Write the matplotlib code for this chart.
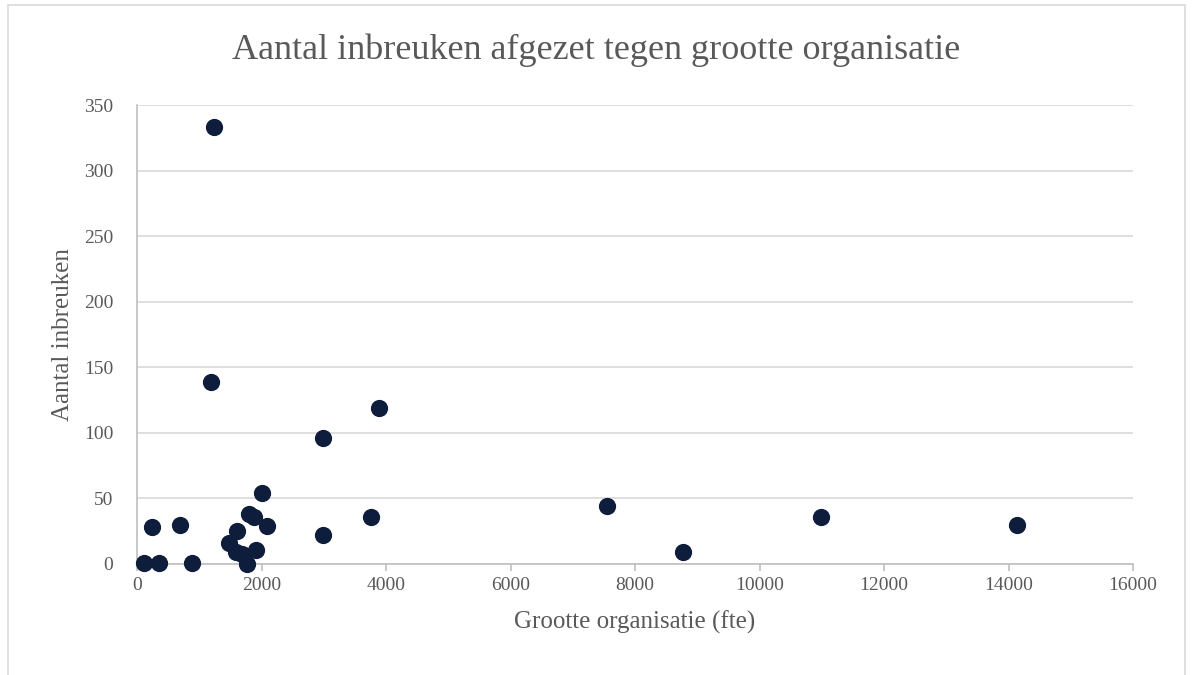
import matplotlib
matplotlib.use("Agg")
import matplotlib.pyplot as plt
from matplotlib.patches import Rectangle

# fte vs aantal inbreuken
fte = [112, 353, 888, 1772, 236, 690, 2013, 1799, 1879, 2093, 1601, 1483,
       1590, 1692, 1911, 2992, 3763, 1237, 1188, 2987, 3887, 7548, 8769,
       10985, 14133]
inbreuken = [1, 1, 1, 0, 28, 30, 54, 38, 36, 29, 25, 16, 9, 8, 11, 22, 36,
             333, 139, 96, 119, 44, 9, 36, 30]

x_ticks = list(range(0, 16001, 2000))
y_ticks = list(range(0, 351, 50))

grey = "#595959"
plt.rcParams['font.family'] = ['Liberation Serif', 'DejaVu Serif']

fig = plt.figure(figsize=(11.92, 6.75), dpi=100)
fig.patches.append(Rectangle((8/1192, -0.05), 1177/1192, 1.05 - 5/675, transform=fig.transFigure,
                             fill=False, edgecolor="#D9D9D9", lw=1.2))

ax = fig.add_axes([137/1192, 1 - 564/675, 996/1192, 459/675])
ax.scatter(fte, inbreuken, s=130, color="#0E1D3B", zorder=3, clip_on=False)

ax.set_xlim(0, 16000)
ax.set_ylim(0, 350)
ax.set_xticks(x_ticks)
ax.set_yticks(y_ticks)
ax.yaxis.grid(True, color="#D9D9D9", lw=1.2)
ax.set_axisbelow(True)

for s in ["top", "right"]:
    ax.spines[s].set_visible(False)
for s in ["left", "bottom"]:
    ax.spines[s].set_color("#BFBFBF")
    ax.spines[s].set_linewidth(1.2)

ax.tick_params(axis="x", colors="#BFBFBF", length=5, width=1.2, labelcolor=grey, labelsize=14, pad=4)
ax.tick_params(axis="y", length=0, labelcolor=grey, labelsize=14, pad=17)

ax.set_xlabel("Grootte organisatie (fte)", color=grey, fontsize=18, labelpad=12)
ax.set_ylabel("Aantal inbreuken", color=grey, fontsize=18, labelpad=7)
fig.text(0.5, 1 - 50/675, "Aantal inbreuken afgezet tegen grootte organisatie",
         ha="center", va="center", color=grey, fontsize=26)

fig.savefig("out.png", dpi=100)
